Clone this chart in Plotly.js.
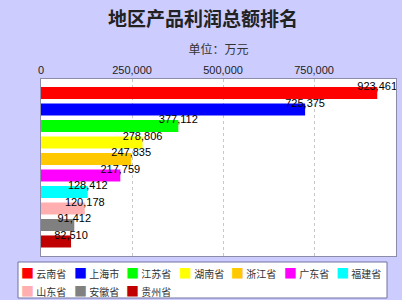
<!DOCTYPE html>
<html>
<head>
<meta charset="utf-8">
<script src="https://cdn.plot.ly/plotly-3.0.1.min.js"></script>
<style>html,body{margin:0;padding:0;background:#fff;}#chart{width:406px;height:305px;}</style>
</head>
<body>
<div id="chart"></div>
<script>
const regions = ['云南省','上海市','江苏省','湖南省','浙江省','广东省','福建省','山东省','安徽省','贵州省'];
const profits = [923461, 725375, 377112, 278806, 247835, 217759, 128412, 120178, 91412, 82510];
const colors = ['#FF0000','#0000FF','#00FF00','#FFFF00','#FFC800','#FF00FF','#00FFFF','#FFAFAF','#808080','#C00000'];
const tickVals = [0, 250000, 500000, 750000];
const tickText = ['0', '250,000', '500,000', '750,000'];

const W = 406, H = 305;
const M = {l: 41, r: 10, t: 79, b: 49};
const PW = W - M.l - M.r, PH = H - M.t - M.b;
const px = x => (x - M.l) / PW;          // pixel -> paper x
const py = y => (H - M.b - y) / PH;      // pixel -> paper y

const cjk = '"Noto Sans CJK SC", "Noto Sans", sans-serif';
const traces = regions.map((r, i) => ({
  type: 'bar', orientation: 'h',
  x: [profits[i]], y: [r], name: r,
  marker: {color: colors[i], line: {width: 0}},
  width: 0.73, hoverinfo: 'x+y'
}));
traces.push({
  type: 'scatter', mode: 'text',
  x: profits, y: regions,
  text: profits.map(v => v.toLocaleString('en-US')),
  textposition: 'top center',
  textfont: {family: 'Arial, "Liberation Sans", sans-serif', size: 11, color: '#000'},
  cliponaxis: true, showlegend: false, hoverinfo: 'skip'
});

// legend drawn as text entries in a box (7 per row)
const legendAnn = regions.map((r, i) => ({
  xref: 'paper', yref: 'paper',
  x: px(19 + (i % 7) * 52.5), y: py(272 + Math.floor(i / 7) * 18),
  xanchor: 'left', yanchor: 'middle', showarrow: false,
  text: '<span style="color:' + colors[i] + ';font-size:13px">■</span> ' + r,
  font: {family: cjk, size: 10, color: '#333'}
}));

const layout = {
  width: W, height: H,
  paper_bgcolor: '#CCCCFF', plot_bgcolor: '#FFFFFF',
  margin: M,
  barmode: 'overlay',
  showlegend: false,
  title: {text: '<b>地区产品利润总额排名</b>', font: {family: cjk, size: 19, color: '#222'},
          x: 0.5, xanchor: 'center', yref: 'container', y: 0.935, yanchor: 'middle'},
  xaxis: {
    side: 'top', range: [0, 975000],
    tickvals: tickVals, ticktext: tickText,
    tickfont: {family: 'Arial, "Liberation Sans", sans-serif', size: 11, color: '#222'},
    ticks: '', showgrid: true, gridcolor: '#C8C8C8', griddash: 'dot', gridwidth: 1,
    zeroline: false, showline: true, mirror: true, linecolor: '#8C8CA8', linewidth: 1,
    title: {text: '单位：万元', font: {family: cjk, size: 12, color: '#333'}, standoff: 6},
    fixedrange: true
  },
  yaxis: {
    type: 'category', categoryorder: 'array', categoryarray: regions,
    range: [9.88, -0.85], showticklabels: false, ticks: '', showgrid: false,
    zeroline: false, showline: true, mirror: true, linecolor: '#8C8CA8', linewidth: 1,
    fixedrange: true
  },
  shapes: [
    {type: 'rect', xref: 'paper', yref: 'paper', x0: px(18), x1: px(387), y0: py(298), y1: py(262),
     fillcolor: '#FFFFFF', line: {color: '#7070A0', width: 1}},
    {type: 'rect', xref: 'paper', yref: 'paper', x0: px(402), x1: px(420), y0: py(320), y1: py(-10),
     fillcolor: '#FFFFFF', line: {width: 0}},
    {type: 'rect', xref: 'paper', yref: 'paper', x0: px(-10), x1: px(420), y0: py(320), y1: py(300),
     fillcolor: '#FFFFFF', line: {width: 0}}
  ],
  annotations: legendAnn
};
Plotly.newPlot('chart', traces, layout, {displayModeBar: false, staticPlot: true});
</script>
</body>
</html>
